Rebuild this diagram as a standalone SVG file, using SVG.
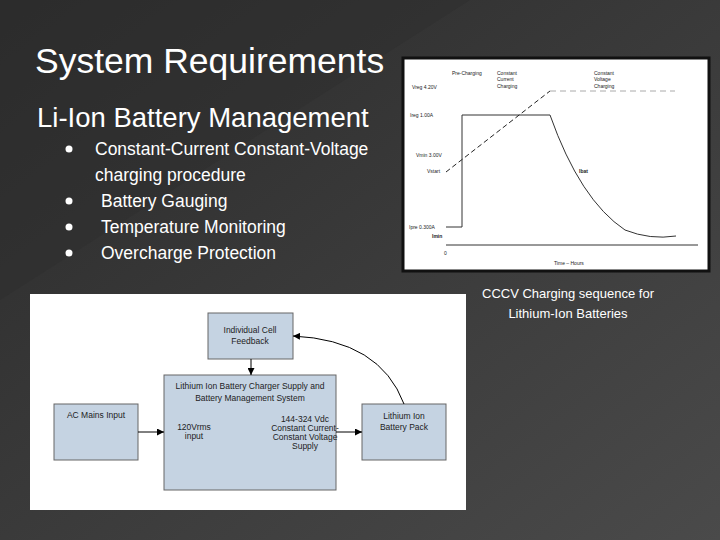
<svg xmlns="http://www.w3.org/2000/svg" width="720" height="540" viewBox="0 0 720 540">
<defs>
<linearGradient id="bg" x1="0" y1="0" x2="1" y2="1"><stop offset="0" stop-color="#2a2a2a"/><stop offset="1" stop-color="#4a4a4a"/></linearGradient>
<marker id="ah" viewBox="0 0 10 10" refX="10" refY="5" markerWidth="7" markerHeight="7" orient="auto"><path d="M0,0L10,5L0,10z" fill="#000"/></marker>
<style>
.t{font-family:"Liberation Sans",Arial,sans-serif;fill:#fff}
.s{font-family:"Liberation Sans",Arial,sans-serif;fill:#222;font-size:5px}
.b{fill:#c5d3e2;stroke:#666;stroke-width:1}
.bt{font-family:"Liberation Sans",Arial,sans-serif;fill:#222;font-size:8.5px;text-anchor:middle}
.c{stroke:#000;stroke-width:1;fill:none}
</style>
</defs>
<rect width="720" height="540" fill="url(#bg)"/>
<polygon points="0,0 470,0 0,300" fill="#2e2e2e" opacity="0.5"/>
<text class="t" x="35" y="73" font-size="35.5">System Requirements</text>
<text class="t" x="37" y="127" font-size="27.5">Li-Ion Battery Management</text>
<g class="t" font-size="17.5">
<circle cx="69" cy="149" r="3.5" fill="#fff"/><text x="95" y="155">Constant-Current Constant-Voltage</text>
<text x="95" y="181">charging procedure</text>
<circle cx="69" cy="201" r="3.5" fill="#fff"/><text x="101" y="207">Battery Gauging</text>
<circle cx="69" cy="227" r="3.5" fill="#fff"/><text x="101" y="233">Temperature Monitoring</text>
<circle cx="69" cy="253" r="3.5" fill="#fff"/><text x="101" y="259">Overcharge Protection</text>
</g>
<g id="chart">
<rect x="403" y="58" width="306" height="213" fill="#fff" stroke="#111" stroke-width="3"/>
<line x1="446" y1="245" x2="698" y2="245" stroke="#333"/>
<path d="M446,227H462V115H550Q580,200 625,230Q650,240 676,236" fill="none" stroke="#333"/>
<path d="M446,172L550,91" stroke="#222" stroke-dasharray="5,3"/>
<path d="M550,91H675" stroke="#aaa" stroke-dasharray="6,4"/>
<text class="s" x="452" y="75">Pre-Charging</text>
<text class="s" x="497" y="75">Constant</text><text class="s" x="497" y="81">Current</text><text class="s" x="497" y="88">Charging</text>
<text class="s" x="594" y="75">Constant</text><text class="s" x="594" y="81">Voltage</text><text class="s" x="594" y="88">Charging</text>
<text class="s" x="412" y="89">Vreg 4.20V</text>
<text class="s" x="410" y="117">Ireg 1.00A</text>
<text class="s" x="416" y="157">Vmin 3.00V</text>
<text class="s" x="427" y="173">Vstart</text>
<text class="s" x="579" y="173" font-weight="bold">Ibat</text>
<text class="s" x="409" y="229">Ipre 0.300A</text>
<text class="s" x="432" y="238" font-weight="bold">Imin</text>
<text class="s" x="444" y="255">0</text>
<text class="s" x="554" y="265">Time – Hours</text>
</g>
<text class="t" x="568" y="298" font-size="13" text-anchor="middle">CCCV Charging sequence for</text>
<text class="t" x="568" y="318" font-size="13" text-anchor="middle">Lithium-Ion Batteries</text>
<rect x="30" y="294" width="436" height="216" fill="#fff"/>
<g id="feedback"><rect class="b" x="208" y="313" width="85" height="46"/><text class="bt" x="250" y="333">Individual Cell</text><text class="bt" x="250" y="344">Feedback</text></g>
<g id="main"><rect class="b" x="164" y="375" width="172" height="115"/><text class="bt" x="250" y="389">Lithium Ion Battery Charger Supply and</text><text class="bt" x="250" y="401">Battery Management System</text>
<text class="bt" x="194" y="430" font-size="7">120Vrms</text><text class="bt" x="194" y="439" font-size="7">input</text>
<text class="bt" x="305" y="422" font-size="7">144-324 Vdc</text><text class="bt" x="305" y="431" font-size="7">Constant Current-</text><text class="bt" x="305" y="440" font-size="7">Constant Voltage</text><text class="bt" x="305" y="449" font-size="7">Supply</text></g>
<g id="ac"><rect class="b" x="54" y="404" width="84" height="56"/><text class="bt" x="96" y="418">AC Mains Input</text></g>
<g id="pack"><rect class="b" x="362" y="404" width="84" height="56"/><text class="bt" x="404" y="419">Lithium Ion</text><text class="bt" x="404" y="430">Battery Pack</text></g>
<g id="connectors">
<line class="c" x1="138" y1="432" x2="164" y2="432" marker-end="url(#ah)"/>
<line class="c" x1="336" y1="432" x2="362" y2="432" marker-end="url(#ah)"/>
<line class="c" x1="251" y1="359" x2="251" y2="375" marker-end="url(#ah)"/>
<path class="c" d="M404,404Q380,340 293,336" stroke-width="0.7" marker-end="url(#ah)"/>
</g>
</svg>
